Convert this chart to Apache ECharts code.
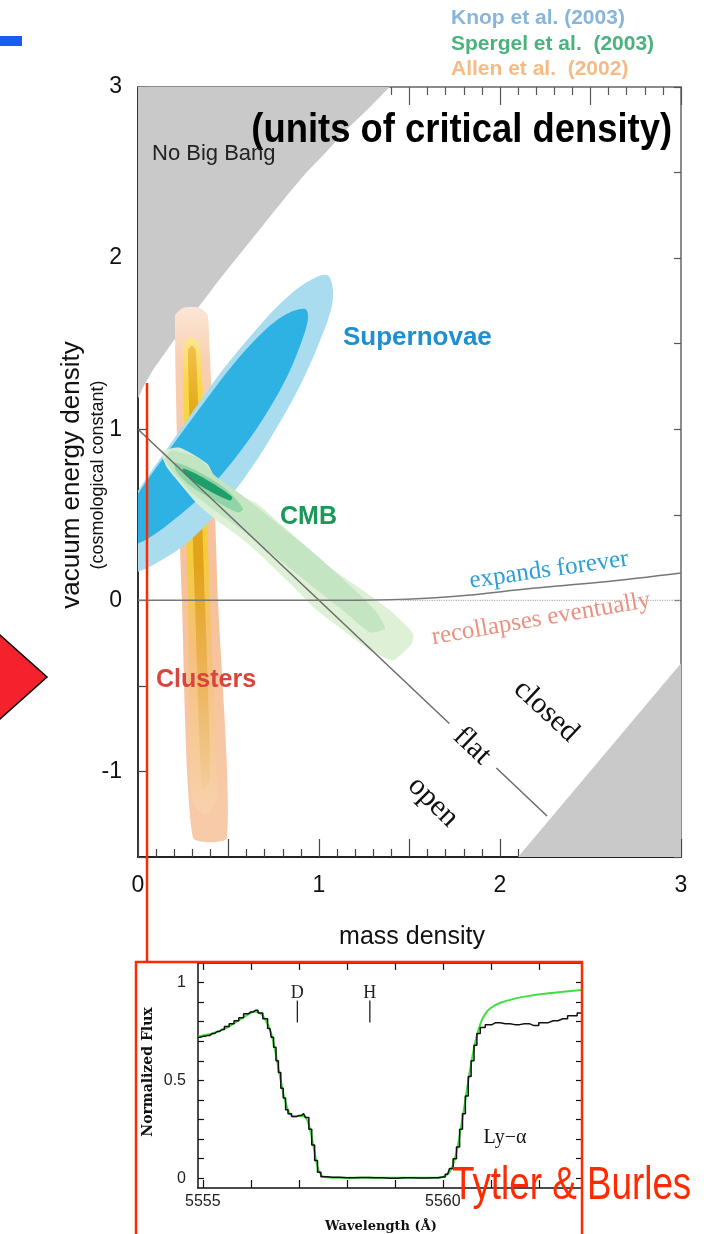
<!DOCTYPE html>
<html><head><meta charset="utf-8">
<script src="https://cdn.jsdelivr.net/npm/echarts@6/dist/echarts.min.js"></script>
<style>html,body{margin:0;padding:0;background:#fff}#c{width:704px;height:1234px}</style>
</head><body><div id="c"></div>
<script>
// ---------- main chart data (mass density, vacuum energy density) ----------
const noBigBang = [[0,3],[1.39,3],[1.27,2.87],[1.15,2.75],[1.04,2.62],[0.93,2.5],[0.83,2.375],[0.735,2.25],[0.64,2.125],[0.545,2.0],[0.45,1.875],[0.36,1.75],[0.27,1.625],[0.185,1.5],[0.085,1.35],[0.03,1.25],[0,1.18]];
const bounceRegion = [[2.10,-1.5],[3,-1.5],[3,-0.367]];
const snOuter = [[1.044,1.901],[1.077,1.808],[1.061,1.679],[0.994,1.487],[0.895,1.254],[0.773,1.020],[0.635,0.787],[0.470,0.554],[0.287,0.350],[0.110,0.222],[-0.017,0.163],[-0.110,0.175],[-0.144,0.292],[-0.099,0.466],[0,0.641],[0.122,0.828],[0.287,1.079],[0.464,1.341],[0.646,1.574],[0.801,1.749],[0.934,1.860]];
const snInner = [[0.923,1.703],[0.939,1.644],[0.895,1.487],[0.812,1.283],[0.691,1.061],[0.547,0.845],[0.381,0.641],[0.193,0.466],[0.055,0.362],[-0.055,0.321],[-0.110,0.379],[-0.072,0.496],[0.011,0.641],[0.149,0.845],[0.331,1.108],[0.519,1.370],[0.685,1.563],[0.812,1.668]];
const clOuter = [[0.204,1.66],[0.25,1.71],[0.34,1.71],[0.387,1.66],[0.442,0],[0.492,-1.388],[0.304,-1.388],[0.243,0]];
const clMiddle = [[0.249,1.50],[0.29,1.54],[0.343,1.50],[0.398,0],[0.436,-1.166],[0.370,-1.254],[0.298,-1.166],[0.276,0]];
const clInner = [[0.276,1.46],[0.298,1.49],[0.320,1.46],[0.370,0],[0.398,-1.050],[0.354,-1.108],[0.315,0]];
const cmbOuter = [[0.138,0.875],[0.232,0.892],[0.381,0.799],[0.436,0.700],[0.564,0.612],[0.657,0.566],[0.785,0.449],[0.912,0.332],[1.061,0.192],[1.243,0.058],[1.392,-0.058],[1.519,-0.192],[1.514,-0.251],[1.409,-0.350],[1.282,-0.292],[1.133,-0.175],[0.989,-0.058],[0.840,0.099],[0.691,0.251],[0.564,0.367],[0.436,0.466],[0.326,0.566],[0.232,0.682],[0.160,0.776],[0.133,0.845]];
const cmbMid = [[0.188,0.875],[0.343,0.828],[0.425,0.729],[0.591,0.601],[0.785,0.437],[1.006,0.245],[1.171,0.087],[1.309,-0.058],[1.365,-0.163],[1.282,-0.187],[1.144,-0.070],[0.978,0.070],[0.785,0.233],[0.591,0.397],[0.425,0.525],[0.287,0.641],[0.188,0.758],[0.149,0.828]];
const cmbLens = [[0.204,0.805],[0.343,0.746],[0.481,0.653],[0.580,0.536],[0.552,0.513],[0.425,0.583],[0.287,0.671],[0.210,0.758]];
const cmbCore = [[0.249,0.770],[0.370,0.711],[0.519,0.606],[0.508,0.583],[0.370,0.653],[0.260,0.735]];
const flatUpper = [[0,1],[1.72,-0.72]];
const flatLower = [[1.98,-0.98],[2.26,-1.26]];
const expandCurve = [[0,0],[1.0,0],[1.4,0.003],[1.6,0.012],[1.82,0.029],[2.18,0.07],[2.55,0.105],[3,0.16]];
const zeroDotted = [[1.45,0],[3,0]];
const rightTicks = [-1.5,-1.4,-1.3,-1.2,-1.1,-1,-0.9,-0.8,-0.7,-0.6,-0.5,0,0.5,1,1.5,2,2.5,3];

// ---------- inset data (Ly-alpha spectrum) ----------
const specObs = [[5554.90,0.72],[5555.00,0.725],[5555.10,0.73],[5555.20,0.74],[5555.30,0.75],[5555.40,0.76],[5555.50,0.775],[5555.60,0.79],[5555.70,0.805],[5555.80,0.82],[5555.90,0.84],[5556.00,0.85],[5556.10,0.858],[5556.20,0.845],[5556.30,0.815],[5556.40,0.765],[5556.45,0.72],[5556.50,0.67],[5556.55,0.60],[5556.60,0.54],[5556.65,0.46],[5556.70,0.41],[5556.75,0.35],[5556.80,0.33],[5556.90,0.315],[5557.00,0.32],[5557.10,0.33],[5557.18,0.31],[5557.24,0.25],[5557.30,0.17],[5557.36,0.09],[5557.42,0.03],[5557.50,0.008],[5557.70,0.005],[5558.00,0.003],[5558.30,0.004],[5558.60,0.002],[5558.90,0.0],[5559.20,0.002],[5559.50,0.001],[5559.80,0.002],[5560.00,0.006],[5560.10,0.02],[5560.18,0.05],[5560.25,0.10],[5560.32,0.16],[5560.38,0.25],[5560.44,0.33],[5560.50,0.42],[5560.56,0.52],[5560.62,0.60],[5560.68,0.68],[5560.74,0.74],[5560.82,0.77],[5560.95,0.785],[5561.10,0.795],[5561.30,0.79],[5561.50,0.785],[5561.70,0.79],[5561.90,0.78],[5562.10,0.795],[5562.30,0.805],[5562.50,0.815],[5562.70,0.83],[5562.90,0.845]];
const specModel = [[5554.90,0.725],[5555.2,0.74],[5555.5,0.77],[5555.8,0.815],[5556.0,0.845],[5556.1,0.852],[5556.25,0.83],[5556.4,0.76],[5556.5,0.66],[5556.6,0.53],[5556.7,0.41],[5556.8,0.335],[5556.9,0.315],[5557.0,0.318],[5557.1,0.318],[5557.2,0.28],[5557.3,0.17],[5557.4,0.05],[5557.5,0.01],[5557.7,0.002],[5559.9,0.002],[5560.1,0.02],[5560.2,0.06],[5560.3,0.15],[5560.4,0.29],[5560.5,0.45],[5560.6,0.6],[5560.7,0.72],[5560.8,0.80],[5560.9,0.845],[5561.0,0.87],[5561.2,0.897],[5561.5,0.918],[5561.8,0.932],[5562.2,0.945],[5562.6,0.955],[5562.9,0.962]];
const lineMarks = [[5556.97,'D'],[5558.48,'H']];
const insetXTicks = [5555,5556,5557,5558,5559,5560,5561,5562];
const insetXLabels = [5555,5560];
const insetYLabels = [0,0.5,1];
const insetYTicks = [0,0.1,0.2,0.3,0.4,0.5,0.6,0.7,0.8,0.9,1.0];

const SANS = "'Liberation Sans', Arial, Helvetica, sans-serif";
const SERIF = "'Liberation Serif', 'Times New Roman', serif";
const LG = (stops) => new echarts.graphic.LinearGradient(0,0,0,1,stops);

function poly(pts, fill, z, smooth, opacity) {
  return {
    type:'custom', xAxisIndex:0, yAxisIndex:0, clip:true, z:z, silent:true,
    data: pts,
    renderItem: function(params, api){
      if (params.dataIndex !== 0) return null;
      return {type:'polygon', shape:{points: pts.map(p => api.coord(p)), smooth: smooth||0},
              style:{fill: fill, opacity: opacity==null?1:opacity}};
    }
  };
}
function line(pts, color, width, type, xi, yi, z, smooth, step) {
  return {type:'line', xAxisIndex:xi||0, yAxisIndex:yi||0, data:pts, showSymbol:false, symbol:'none',
    smooth: smooth||false, step: step||false, z:z||10, silent:true, clip:true,
    lineStyle:{color:color, width:width, type:type||'solid'}};
}
function T(text, x, y, o) {
  return {type:'text', x:x, y:y, rotation:o.rot||0, scaleX:o.sx||1, z:100,
    style:{text:text, fill:o.color||'#111', fontSize:o.size, fontFamily:o.family||SANS,
      fontWeight:o.weight||'normal', align:o.align||'left', textAlign:o.align||'left',
      verticalAlign:'middle', textVerticalAlign:'middle'}};
}
const isInt = v => Math.abs(v - Math.round(v)) < 1e-6;

const chart = echarts.init(document.getElementById('c'), null, {renderer:'canvas'});
const axTick = (len, color) => ({show:true, inside:true, length:len, lineStyle:{color:color, width:1.2}});

const option = {
  animation:false,
  backgroundColor:'#fff',
  grid:[
    {left:138, top:87, width:543, height:770},
    {left:198, top:963, width:384, height:225}
  ],
  xAxis:[
    {type:'value', gridIndex:0, position:'bottom', min:0, max:3, interval:0.5,
      axisLine:{show:true, onZero:false, lineStyle:{color:'#222', width:2}},
      axisTick:axTick(18,'#444'), minorTick:{show:true, splitNumber:5, length:8, lineStyle:{color:'#444', width:1.2}},
      axisLabel:{margin:17, fontSize:23, color:'#111', fontFamily:SANS, formatter:v => isInt(v) ? String(Math.round(v)) : ''},
      splitLine:{show:false}, minorSplitLine:{show:false}},
    {type:'value', gridIndex:0, position:'top', min:0, max:3, interval:0.5,
      axisLine:{show:true, onZero:false, lineStyle:{color:'#666', width:1.5}},
      axisTick:axTick(18,'#555'), minorTick:{show:true, splitNumber:5, length:8, lineStyle:{color:'#555', width:1.2}},
      axisLabel:{show:false}, splitLine:{show:false}},
    {type:'value', gridIndex:1, position:'bottom', min:5554.9, max:5562.9,
      axisLine:{show:true, onZero:false, lineStyle:{color:'#111', width:1.5}},
      axisTick:{show:true, inside:true, length:8, customValues:insetXTicks, lineStyle:{color:'#111', width:1.2}},
      axisLabel:{customValues:insetXLabels, margin:6, fontSize:16, color:'#222', fontFamily:SANS, formatter:v => String(Math.round(v))},
      splitLine:{show:false}},
    {type:'value', gridIndex:1, position:'top', min:5554.9, max:5562.9,
      axisLine:{show:true, onZero:false, lineStyle:{color:'#111', width:1.5}},
      axisTick:{show:true, inside:true, length:7, customValues:insetXTicks, lineStyle:{color:'#111', width:1.2}},
      axisLabel:{show:false}, splitLine:{show:false}}
  ],
  yAxis:[
    {type:'value', gridIndex:0, position:'left', min:-1.5, max:3, interval:0.5,
      axisLine:{show:true, onZero:false, lineStyle:{color:'#333', width:2}},
      axisTick:axTick(9,'#444'),
      axisLabel:{margin:16, fontSize:23, color:'#111', fontFamily:SANS, formatter:v => isInt(v) ? String(Math.round(v)) : ''},
      splitLine:{show:false}},
    {type:'value', gridIndex:0, position:'right', min:-1.5, max:3,
      axisLine:{show:true, onZero:false, lineStyle:{color:'#666', width:1.5}},
      axisTick:{show:true, inside:true, length:7, customValues:rightTicks, lineStyle:{color:'#555', width:1.2}},
      axisLabel:{show:false}, splitLine:{show:false}},
    {type:'value', gridIndex:1, position:'left', min:-0.05, max:1.1,
      axisLine:{show:true, onZero:false, lineStyle:{color:'#111', width:1.5}},
      axisTick:{show:true, inside:true, length:6, customValues:insetYTicks, lineStyle:{color:'#111', width:1.2}},
      axisLabel:{customValues:insetYLabels, margin:12, fontSize:16, color:'#222', fontFamily:SANS},
      splitLine:{show:false}},
    {type:'value', gridIndex:1, position:'right', min:-0.05, max:1.1,
      axisLine:{show:true, onZero:false, lineStyle:{color:'#111', width:1.5}},
      axisTick:{show:true, inside:true, length:6, customValues:insetYTicks, lineStyle:{color:'#111', width:1.2}},
      axisLabel:{show:false}, splitLine:{show:false}}
  ],
  series:[
    poly(noBigBang, '#c9c9c9', 1, 0),
    poly(bounceRegion, '#c9c9c9', 1, 0),
    poly(clOuter, LG([{offset:0,color:'#fce6d6'},{offset:0.1,color:'#f9cfb2'},{offset:0.5,color:'#f6c09a'},{offset:1,color:'#f8cba8'}]), 2, 0.2),
    poly(clMiddle, LG([{offset:0,color:'#fbe59a'},{offset:0.1,color:'#f8d843'},{offset:0.45,color:'#f5cc3a'},{offset:0.65,color:'#f5c07a'},{offset:1,color:'#f8d2ad'}]), 3, 0.2),
    poly(clInner, LG([{offset:0,color:'#f1c24a'},{offset:0.15,color:'#e4a81a'},{offset:0.5,color:'#e2a31b'},{offset:0.75,color:'#ecb55a'},{offset:1,color:'#f4cc9c'}]), 4, 0.2),
    poly(snOuter, '#a9dcef', 5, 0.35),
    poly(snInner, '#2eb2e4', 6, 0.35),
    poly(cmbOuter, '#dcf0d4', 7, 0.2, 0.95),
    poly(cmbMid, '#c2e4c0', 8, 0.2, 0.95),
    poly(cmbLens, '#8fd3a6', 9, 0.3),
    poly(cmbCore, '#1e9f69', 9, 0.3),
    line(flatUpper, '#6b6b6b', 1.5),
    line(flatLower, '#6b6b6b', 1.5),
    line(expandCurve, '#777', 1.5, 'solid', 0, 0, 10, 0.4),
    line(zeroDotted, '#b5b5b5', 1.2, 'dotted'),
    line(specModel, '#3fdf3f', 2, 'solid', 2, 2, 10, 0.3),
    line(specObs, '#111', 1.5, 'solid', 2, 2, 11, false, 'middle'),
    {type:'custom', xAxisIndex:2, yAxisIndex:2, z:12, silent:true, data:lineMarks.map(d => [d[0], 0.8]),
      renderItem:function(params, api){
        const m = lineMarks[params.dataIndex];
        const a = api.coord([m[0], 0.908]), b = api.coord([m[0], 0.796]), t = api.coord([m[0], 0.944]);
        return {type:'group', children:[
          {type:'line', shape:{x1:a[0], y1:a[1], x2:b[0], y2:b[1]}, style:{stroke:'#222', lineWidth:1.3}},
          {type:'text', x:t[0], y:t[1], style:{text:m[1], fill:'#222', fontSize:18, fontFamily:SERIF, align:'center', textAlign:'center', verticalAlign:'middle', textVerticalAlign:'middle'}}
        ]};
      }}
  ],
  graphic:[
    {type:'rect', z:100, shape:{x:0, y:36, width:22, height:10}, style:{fill:'#1a5cf0'}},
    T('Knop et al. (2003)', 451, 18, {size:21, weight:'bold', color:'#88b5da'}),
    T('Spergel et al.  (2003)', 451, 44, {size:21, weight:'bold', color:'#4cb27c'}),
    T('Allen et al.  (2002)', 451, 69, {size:21, weight:'bold', color:'#f6bb84'}),
    T('(units of critical density)', 672, 131, {size:40, weight:'bold', color:'#000', align:'right', sx:0.91}),
    T('No Big Bang', 152, 154, {size:22, color:'#222'}),
    T('Supernovae', 343, 338, {size:26, weight:'bold', color:'#1f8fcf'}),
    T('CMB', 280, 517, {size:25, weight:'bold', color:'#1a9858'}),
    T('Clusters', 156, 680, {size:25, weight:'bold', color:'#d8453d'}),
    T('expands forever', 549, 570, {size:25, family:SERIF, color:'#2c9fd6', align:'center', rot:0.14}),
    T('recollapses eventually', 541, 619, {size:25, family:SERIF, color:'#ec9080', align:'center', rot:0.17}),
    T('closed', 546, 711, {size:30, family:SERIF, color:'#111', align:'center', rot:-0.75}),
    T('flat', 472, 746, {size:30, family:SERIF, color:'#111', align:'center', rot:-0.76}),
    T('open', 433, 802, {size:30, family:SERIF, color:'#111', align:'center', rot:-0.78}),
    T('mass density', 412, 937, {size:25, color:'#111', align:'center'}),
    T('vacuum energy density', 72, 475, {size:26, color:'#111', align:'center', rot:Math.PI/2}),
    T('(cosmological constant)', 98, 475, {size:18, color:'#111', align:'center', rot:Math.PI/2}),
    {type:'polygon', z:100, shape:{points:[[0,635],[47,677],[0,719],[-47,677]]}, style:{fill:'#f5222d', stroke:'#000', lineWidth:1.5}},
    {type:'line', z:101, shape:{x1:147, y1:383, x2:147, y2:963}, style:{stroke:'#ff2a00', lineWidth:2.5}},
    {type:'rect', z:101, shape:{x:136, y:962, width:446, height:300}, style:{fill:null, stroke:'#ff2a00', lineWidth:2.5}},
    T('Normalized Flux', 148, 1072, {size:14, weight:'bold', family:"'DejaVu Serif', serif", color:'#111', align:'center', rot:Math.PI/2}),
    T('Wavelength (\u00c5)', 381, 1227, {size:13, weight:'bold', family:"'DejaVu Serif', serif", color:'#111', align:'center'}),
    T('Ly\u2212\u03b1', 505, 1138, {size:20, family:SERIF, color:'#111', align:'center'}),
    T('Tytler & Burles', 452, 1186, {size:46, color:'#ff2a00', sx:0.8})
  ]
};
chart.setOption(option);
</script></body></html>
